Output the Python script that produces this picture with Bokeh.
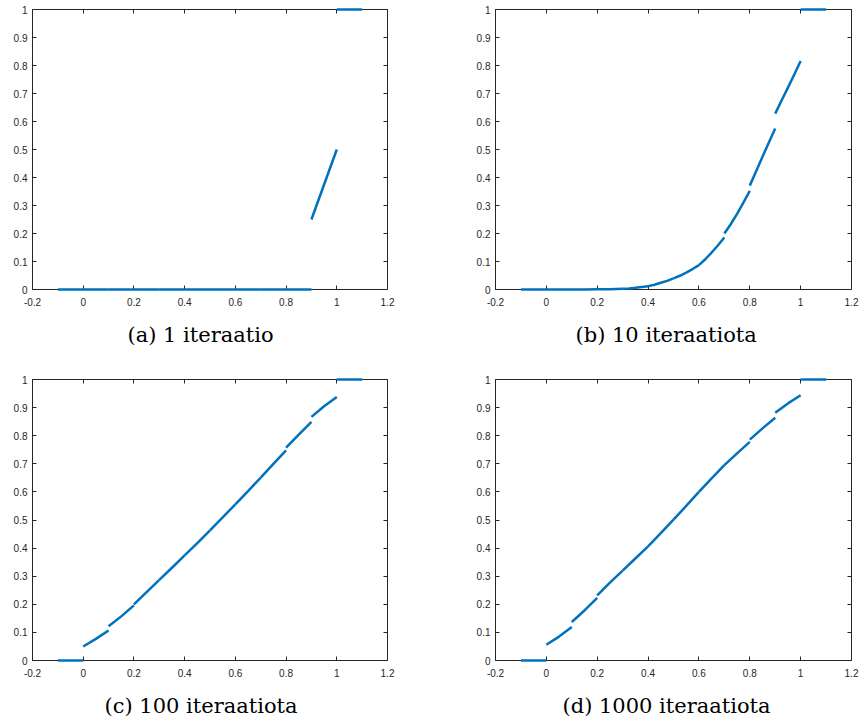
from bokeh.plotting import figure
from bokeh.layouts import column, row
from bokeh.models import Range1d, FixedTicker, LinearAxis
from bokeh.embed import file_html
from bokeh.resources import INLINE

# ---- data -------------------------------------------------------------
knots = [-0.1, 0.0, 0.1, 0.2, 0.3, 0.4, 0.5, 0.6, 0.7, 0.8, 0.9, 1.0, 1.1]

# each entry: values read at evenly spaced points across one segment
segs_a = [
    [0, 0, 0], [0, 0, 0], [0, 0, 0], [0, 0, 0], [0, 0, 0], [0, 0, 0],
    [0, 0, 0], [0, 0, 0], [0, 0, 0], [0, 0, 0],
    [0.25, 0.375, 0.5],
    [1, 1, 1],
]
segs_b = [
    [0, 0, 0], [0, 0, 0], [0, 0, 0.0005],
    [0.0005, 0.0008, 0.001, 0.002, 0.003],
    [0.003, 0.004, 0.006, 0.009, 0.012],
    [0.012, 0.017, 0.024, 0.031, 0.04],
    [0.04, 0.049, 0.06, 0.073, 0.087],
    [0.087, 0.108, 0.132, 0.158, 0.186],
    [0.2, 0.233, 0.27, 0.31, 0.352],
    [0.371, 0.422, 0.474, 0.525, 0.575],
    [0.628, 0.675, 0.721, 0.768, 0.816],
    [1, 1, 1],
]
segs_c = [
    [0, 0, 0], [0.05, 0.077, 0.107], [0.122, 0.157, 0.196],
    [0.2, 0.243, 0.287], [0.287, 0.33, 0.374], [0.374, 0.418, 0.463],
    [0.463, 0.509, 0.556], [0.556, 0.603, 0.651], [0.651, 0.7, 0.748],
    [0.758, 0.804, 0.849], [0.867, 0.905, 0.938], [1, 1, 1],
]
segs_d = [
    [0, 0, 0], [0.056, 0.085, 0.119], [0.137, 0.178, 0.223],
    [0.232, 0.277, 0.32], [0.32, 0.363, 0.406], [0.406, 0.453, 0.501],
    [0.501, 0.55, 0.6], [0.6, 0.648, 0.695], [0.695, 0.737, 0.778],
    [0.786, 0.826, 0.864], [0.882, 0.915, 0.944], [1, 1, 1],
]
captions = ["(a) 1 iteraatio", "(b) 10 iteraatiota",
            "(c) 100 iteraatiota", "(d) 1000 iteraatiota"]

x_ticks = [-0.2, 0, 0.2, 0.4, 0.6, 0.8, 1, 1.2]
x_tick_labels = ["-0.2", "0", "0.2", "0.4", "0.6", "0.8", "1", "1.2"]
y_ticks = [0, 0.1, 0.2, 0.3, 0.4, 0.5, 0.6, 0.7, 0.8, 0.9, 1]
y_tick_labels = ["0", "0.1", "0.2", "0.3", "0.4", "0.5", "0.6", "0.7",
                 "0.8", "0.9", "1"]

BLUE = "#0072BD"
AX = "#262626"


def style_axis(ax, ticks, labels, show_labels, standoff):
    ax.ticker = FixedTicker(ticks=ticks)
    if show_labels:
        ax.major_label_overrides = {t: l for t, l in zip(ticks, labels)}
    else:
        ax.major_label_overrides = {t: "" for t in ticks}
    ax.minor_tick_line_color = None
    ax.major_tick_in = 4
    ax.major_tick_out = 0
    ax.major_tick_line_color = AX
    ax.axis_line_color = AX
    ax.axis_line_width = 1
    ax.major_label_text_font = "Liberation Sans"
    ax.major_label_text_font_size = "10px"
    ax.major_label_text_color = AX
    ax.major_label_standoff = standoff


def make(caption, cap_offset, segs, w, h, bl, br, bt, bb, gap):
    p = figure(width=w, height=h, x_range=Range1d(-0.2, 1.2),
               y_range=Range1d(0, 1), output_backend="svg",
               toolbar_location=None, min_border_left=bl,
               min_border_right=br, min_border_top=bt, min_border_bottom=bb,
               title=caption, title_location="below")
    p.xgrid.visible = False
    p.ygrid.visible = False
    p.outline_line_color = None
    p.background_fill_color = "white"
    p.border_fill_color = "white"
    style_axis(p.xaxis[0], x_ticks, x_tick_labels, True, 8)
    style_axis(p.yaxis[0], y_ticks, y_tick_labels, True, 5)
    top = LinearAxis()
    style_axis(top, x_ticks, x_tick_labels, False, 0)
    p.add_layout(top, "above")
    right = LinearAxis()
    style_axis(right, y_ticks, y_tick_labels, False, 0)
    p.add_layout(right, "right")

    # invisible spacer between the tick labels and the caption
    spacer = LinearAxis()
    spacer.ticker = FixedTicker(ticks=[0.5])
    spacer.major_label_overrides = {0.5: ""}
    spacer.axis_line_color = None
    spacer.major_tick_line_color = None
    spacer.minor_tick_line_color = None
    spacer.major_tick_in = 0
    spacer.major_tick_out = gap
    spacer.major_label_standoff = 0
    spacer.major_label_text_font_size = "10px"
    p.add_layout(spacer, "below")

    t = p.title
    t.align = "left"
    t.offset = cap_offset
    t.vertical_align = "top"
    t.standoff = 0
    t.text_font = "DejaVu Serif"
    t.text_font_size = "21px"
    t.text_font_style = "normal"
    t.text_color = "black"

    xs, ys = [], []
    for i, s in enumerate(segs):
        x0, x1 = knots[i], knots[i + 1]
        n = len(s)
        xs.append([x0 + (x1 - x0) * k / (n - 1) for k in range(n)])
        ys.append(list(s))
    r = p.multi_line(xs=xs, ys=ys, line_color=BLUE, line_width=2.5,
                     line_join="round")
    r.level = "overlay"
    return p


pa = make(captions[0], 95, segs_a, 440, 360, 32, 53, 9, 71, 14)
pb = make(captions[1], 80, segs_b, 419, 360, 55, 8, 9, 71, 14)
pc = make(captions[2], 72, segs_c, 440, 362, 32, 53, 19, 62, 14)
pd = make(captions[3], 67, segs_d, 419, 362, 55, 8, 19, 62, 14)

layout = column(row(pa, pb), row(pc, pd))

open("out.html", "w").write(file_html(layout, INLINE))
